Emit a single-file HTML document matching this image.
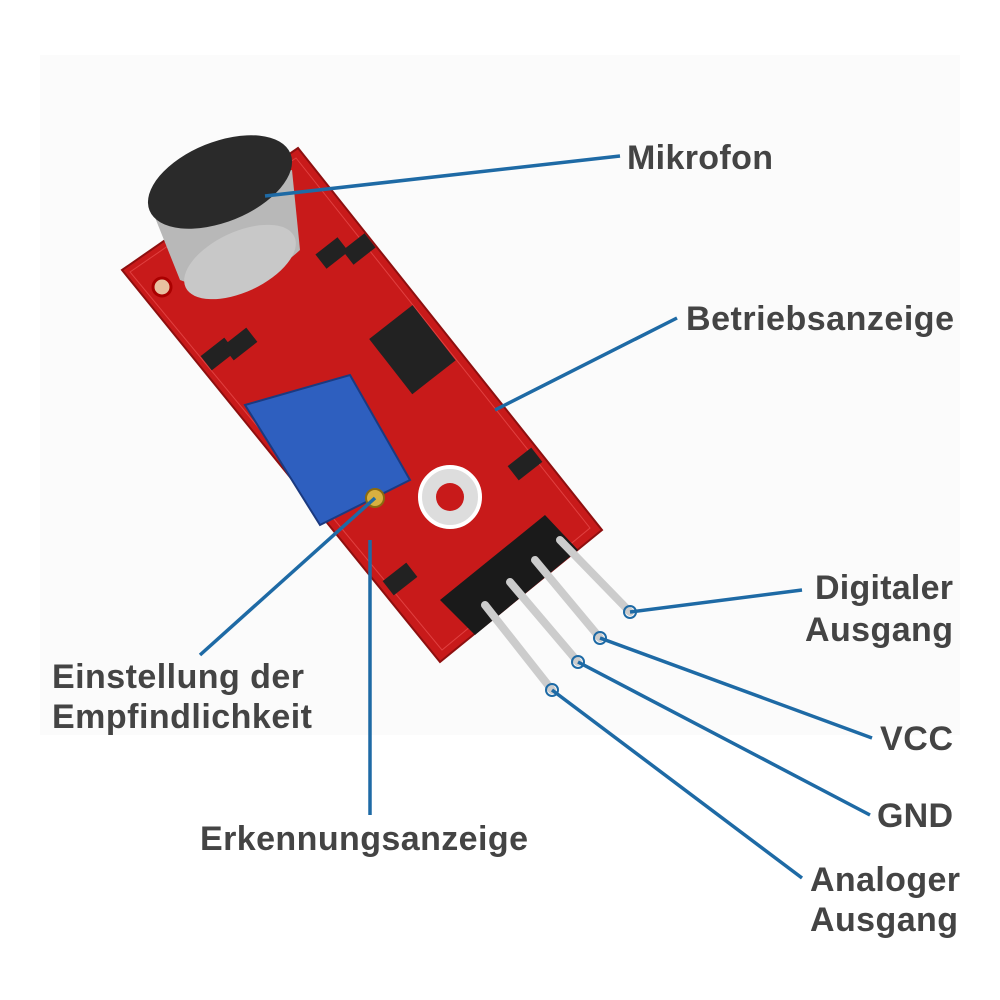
<!DOCTYPE html>
<html><head><meta charset="utf-8"><style>
html,body{margin:0;padding:0;background:#fff;}
svg{display:block}
text{font-family:"Liberation Sans",sans-serif;font-weight:bold;fill:#444;font-size:34px}
</style></head><body>
<svg width="1000" height="1000" viewBox="0 0 1000 1000">
<rect x="40" y="55" width="920" height="680" fill="#fbfbfb"/>
<!-- board -->
<polygon points="122,270 298,148 602,530 440,662" fill="#c81a1a" stroke="#8e0f0f" stroke-width="2"/>
<polygon points="130,272 296,158 590,528 442,650" fill="none" stroke="#e04040" stroke-width="1"/>
<circle cx="162" cy="287" r="9" fill="#e8c0a0" stroke="#a00" stroke-width="3"/>
<!-- small components -->
<g fill="#222">
<rect x="318" y="244" width="28" height="18" transform="rotate(-38 332 253)"/>
<rect x="345" y="240" width="28" height="18" transform="rotate(-38 359 249)"/>
<rect x="203" y="345" width="30" height="18" transform="rotate(-38 218 354)"/>
<rect x="225" y="335" width="30" height="18" transform="rotate(-38 240 344)"/>
<rect x="510" y="455" width="30" height="18" transform="rotate(-38 525 464)"/>
<rect x="385" y="570" width="30" height="18" transform="rotate(-38 400 579)"/>
<rect x="385" y="315" width="55" height="70" transform="rotate(-38 412 350)"/>
</g>
<circle cx="450" cy="497" r="30" fill="#ddd" stroke="#fff" stroke-width="4"/>
<circle cx="450" cy="497" r="14" fill="#c81a1a"/>
<!-- pot -->
<polygon points="245,405 350,375 410,480 320,525" fill="#2e5fbf" stroke="#1b3a80" stroke-width="2"/>
<circle cx="375" cy="498" r="9" fill="#d8b040" stroke="#8a6a10" stroke-width="2"/>
<!-- microphone -->
<path d="M148,200 L180,280 Q240,305 300,250 L292,170 Z" fill="#b8b8b8"/>
<ellipse cx="240" cy="262" rx="60" ry="30" transform="rotate(-25 240 262)" fill="#c8c8c8"/>
<ellipse cx="220" cy="182" rx="76" ry="40" transform="rotate(-22 220 182)" fill="#2a2a2a"/>
<!-- header & pins -->
<polygon points="440,600 545,515 578,550 475,635" fill="#1a1a1a"/>
<g stroke="#ccc" stroke-width="8" stroke-linecap="round">
<line x1="560" y1="540" x2="630" y2="612"/>
<line x1="535" y1="560" x2="600" y2="638"/>
<line x1="510" y1="582" x2="578" y2="662"/>
<line x1="485" y1="605" x2="552" y2="690"/>
</g>
<!-- leader lines -->
<g stroke="#1e6aa5" stroke-width="3.5" fill="none">
<line x1="265" y1="196" x2="620" y2="156"/>
<line x1="495" y1="410" x2="677" y2="318"/>
<line x1="630" y1="612" x2="802" y2="590"/>
<line x1="600" y1="638" x2="872" y2="738"/>
<line x1="578" y1="662" x2="870" y2="815"/>
<line x1="552" y1="690" x2="802" y2="878"/>
<line x1="375" y1="498" x2="200" y2="655"/>
<line x1="370" y1="540" x2="370" y2="815"/>
</g>
<g stroke="#1e6aa5" stroke-width="2" fill="none">
<circle cx="630" cy="612" r="6"/><circle cx="600" cy="638" r="6"/>
<circle cx="578" cy="662" r="6"/><circle cx="552" cy="690" r="6"/>
</g>
<text x="627" y="169" textLength="146">Mikrofon</text>
<text x="686" y="330" textLength="268">Betriebsanzeige</text>
<text x="815" y="599" textLength="138">Digitaler</text>
<text x="805" y="641" textLength="148">Ausgang</text>
<text x="880" y="750" textLength="73">VCC</text>
<text x="877" y="827" textLength="76">GND</text>
<text x="810" y="891" textLength="150">Analoger</text>
<text x="810" y="931" textLength="148">Ausgang</text>
<text x="52" y="688" textLength="252">Einstellung der</text>
<text x="52" y="728" textLength="260">Empfindlichkeit</text>
<text x="200" y="850" textLength="328">Erkennungsanzeige</text>
</svg>
</body></html>
